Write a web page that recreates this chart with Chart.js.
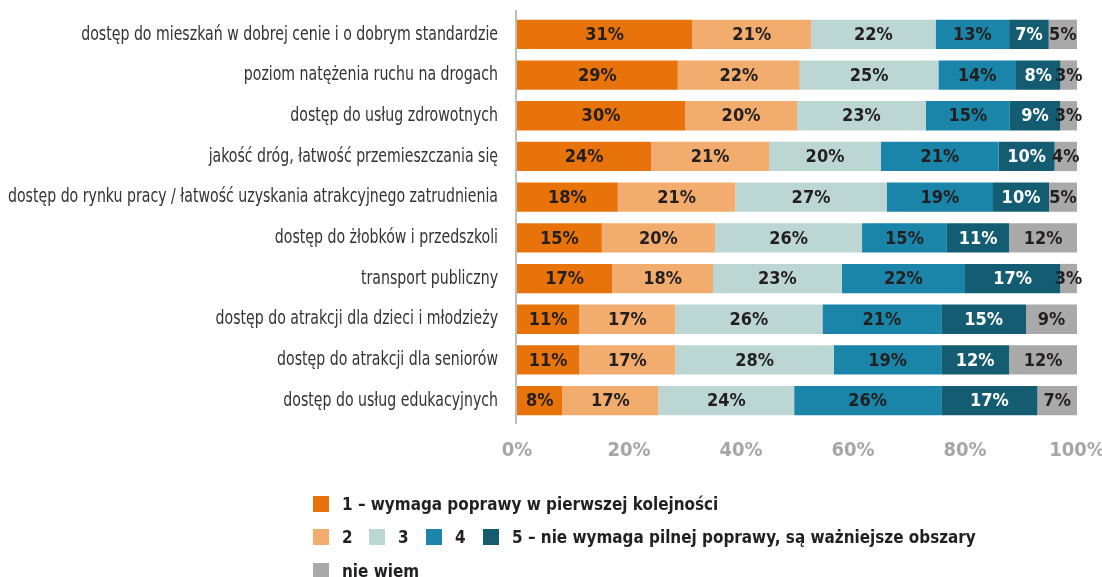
<!DOCTYPE html>
<html>
<head>
<meta charset="utf-8">
<script src="https://cdn.jsdelivr.net/npm/chart.js@4/dist/chart.umd.min.js"></script>
<style>
  html, body { margin: 0; padding: 0; background: #fff; }
  #wrap { position: relative; width: 1102px; height: 577px; overflow: hidden; }
  #chartBox { position: absolute; left: 0; top: 0; width: 1102px; height: 473px; }
  #legend { position: absolute; left: 0; top: 0; width: 1102px; height: 577px; font-family: 'DejaVu Sans Condensed', sans-serif; font-weight: bold; font-size: 18px; color: #231f20; }
  .lg-swatch { position: absolute; width: 16px; height: 16px; }
  .lg-text { position: absolute; white-space: nowrap; line-height: 20px; transform: scaleX(0.94); transform-origin: left center; }
</style>
</head>
<body>
<div id="wrap">
  <div id="chartBox"><canvas id="chart"></canvas></div>
  <div id="legend"></div>
</div>
<script>
// --- DATA ---
const categories = [
  'dostęp do mieszkań w dobrej cenie i o dobrym standardzie',
  'poziom natężenia ruchu na drogach',
  'dostęp do usług zdrowotnych',
  'jakość dróg, łatwość przemieszczania się',
  'dostęp do rynku pracy / łatwość uzyskania atrakcyjnego zatrudnienia',
  'dostęp do żłobków i przedszkoli',
  'transport publiczny',
  'dostęp do atrakcji dla dzieci i młodzieży',
  'dostęp do atrakcji dla seniorów',
  'dostęp do usług edukacyjnych'
];
const seriesNames = [
  '1 – wymaga poprawy w pierwszej kolejności',
  '2',
  '3',
  '4',
  '5 – nie wymaga pilnej poprawy, są ważniejsze obszary',
  'nie wiem'
];
const score1 = [31, 29, 30, 24, 18, 15, 17, 11, 11, 8];
const score2 = [21, 22, 20, 21, 21, 20, 18, 17, 17, 17];
const score3 = [22, 25, 23, 20, 27, 26, 23, 26, 28, 24];
const score4 = [13, 14, 15, 21, 19, 15, 22, 21, 19, 26];
const score5 = [7, 8, 9, 10, 10, 11, 17, 15, 12, 17];
const dontKnow = [5, 3, 3, 4, 5, 12, 3, 9, 12, 7];
const xTicks = [0, 20, 40, 60, 80, 100];

const seriesColors = ['#E8730A', '#F2AC6E', '#BCD7D3', '#1A85A8', '#135C72', '#A9A9A9'];
const labelColors = ['#231f20', '#231f20', '#231f20', '#231f20', '#ffffff', '#231f20'];
const narrow = "'DejaVu Sans Condensed', sans-serif";

const seriesData = [score1, score2, score3, score4, score5, dontKnow];
// rounded shares don't always add to 100, the bars are stretched to full width
const rowTotals = categories.map((c, j) => seriesData.reduce((s, d) => s + d[j], 0));

// category names, squeezed a bit to look like a condensed face, plus the axis line
const catLabels = {
  id: 'catLabels',
  afterDraw(chart) {
    const ctx = chart.ctx, y = chart.scales.y, area = chart.chartArea;
    ctx.save();
    ctx.strokeStyle = '#BDBDBD';
    ctx.lineWidth = 2;
    ctx.beginPath();
    ctx.moveTo(area.left - 1, area.top - 4);
    ctx.lineTo(area.left - 1, area.bottom + 3);
    ctx.stroke();

    ctx.font = '20px ' + narrow;
    ctx.fillStyle = '#333333';
    ctx.textAlign = 'right';
    ctx.textBaseline = 'middle';
    const widest = Math.max(...categories.map(c => ctx.measureText(c).width));
    const sx = Math.min(1, 490 / widest);
    categories.forEach((c, i) => {
      ctx.save();
      ctx.translate(498, y.getPixelForValue(i));
      ctx.scale(sx, 1);
      ctx.fillText(c, 0, 0);
      ctx.restore();
    });
    ctx.restore();
  }
};

// value labels inside the segments
const barLabels = {
  id: 'barLabels',
  afterDatasetsDraw(chart) {
    const ctx = chart.ctx;
    ctx.save();
    ctx.font = 'bold 18px ' + narrow;
    ctx.textAlign = 'center';
    ctx.textBaseline = 'middle';
    chart.data.datasets.forEach((ds, i) => {
      chart.getDatasetMeta(i).data.forEach((bar, j) => {
        ctx.fillStyle = labelColors[i];
        ctx.fillText(seriesData[i][j] + '%', (bar.x + bar.base) / 2, bar.y + 1);
      });
    });
    ctx.restore();
  }
};

new Chart(document.getElementById('chart'), {
  type: 'bar',
  data: {
    labels: categories,
    datasets: seriesData.map((d, i) => ({
      label: seriesNames[i],
      data: d.map((v, j) => v * 100 / rowTotals[j]),
      backgroundColor: seriesColors[i],
      borderWidth: 0,
      barPercentage: 0.72,
      categoryPercentage: 1
    }))
  },
  options: {
    indexAxis: 'y',
    responsive: true,
    maintainAspectRatio: false,
    animation: false,
    layout: { padding: { top: 14, right: 0, left: 0, bottom: 0 } },
    plugins: { legend: { display: false }, tooltip: { enabled: false } },
    scales: {
      x: {
        stacked: true, min: 0, max: 100,
        afterBuildTicks: s => { s.ticks = xTicks.map(v => ({ value: v })); },
        afterFit: s => { s.paddingRight = 25; s.paddingLeft = 0; },
        grid: { display: false }, border: { display: false },
        ticks: { callback: v => v + '%', color: '#A6A6A6', font: { family: narrow, size: 20, weight: 'bold' }, padding: 10 }
      },
      y: {
        stacked: true,
        afterFit: s => { s.width = 517; },
        grid: { display: false, drawTicks: false },
        border: { display: false },
        ticks: { display: false }
      }
    }
  },
  plugins: [barLabels, catLabels]
});

// legend laid out as in the original: 1 / 2 3 4 5 / nie wiem
const legendSlots = [
  { x: 313, y: 496 },
  { x: 313, y: 529 },
  { x: 369, y: 529 },
  { x: 426, y: 529 },
  { x: 483, y: 529 },
  { x: 313, y: 563 }
];
const legendEl = document.getElementById('legend');
legendEl.innerHTML = seriesNames.map((name, i) => {
  const p = legendSlots[i];
  return `<span class="lg-swatch" style="left:${p.x}px;top:${p.y}px;background:${seriesColors[i]}"></span>` +
         `<span class="lg-text" style="left:${p.x + 29}px;top:${p.y - 2}px">${name}</span>`;
}).join('');
</script>
</body>
</html>
